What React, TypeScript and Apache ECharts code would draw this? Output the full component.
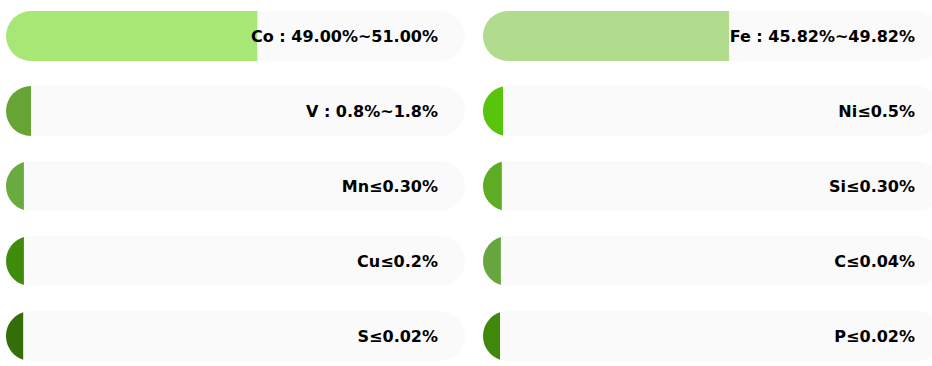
import React, { useEffect, useRef } from "react";
import * as echarts from "echarts";

const MAX = 100;

const leftNames = ["Co", "V", "Mn", "Cu", "S"];
const leftLabels = ["Co : 49.00%~51.00%", "V : 0.8%~1.8%", "Mn≤0.30%", "Cu≤0.2%", "S≤0.02%"];
const leftValues = [54.75, 5.45, 3.9, 3.9, 3.75];
const leftColors = ["#a6e776", "#66a535", "#6aaa3e", "#3f8b0b", "#336e08"];

const rightNames = ["Fe", "Ni", "Si", "C", "P"];
const rightLabels = ["Fe : 45.82%~49.82%", "Ni≤0.5%", "Si≤0.30%", "C≤0.04%", "P≤0.02%"];
const rightValues = [53.6, 4.36, 4.1, 3.9, 3.7];
const rightColors = ["#b1dc8e", "#58c40c", "#5dac24", "#67a63e", "#3f880b"];

const BAR_H = 50;
const LABEL_GAP = 27;

function makeRenderItem(labels: string[], colors: string[]) {
  return (params: any, api: any) => {
    const val = api.value(0);
    const idx = api.value(1);
    const start = api.coord([0, idx]);
    const end = api.coord([val, idx]);
    const full = api.coord([MAX, idx]);
    const r = BAR_H / 2;
    const x0 = start[0];
    const x1 = end[0];
    const yc = start[1];
    let d: string;
    if (x1 - x0 >= r) {
      d = `M ${x0 + r} ${yc - r} L ${x1} ${yc - r} L ${x1} ${yc + r} L ${x0 + r} ${yc + r} A ${r} ${r} 0 0 1 ${x0 + r} ${yc - r} Z`;
    } else {
      const dx = x0 + r - x1;
      const dy = Math.sqrt(Math.max(0, r * r - dx * dx));
      d = `M ${x1} ${yc - dy} L ${x1} ${yc + dy} A ${r} ${r} 0 0 1 ${x1} ${yc - dy} Z`;
    }
    return {
      type: "group",
      children: [
        {
          type: "path",
          shape: { pathData: d },
          style: { fill: colors[params.dataIndex] },
          z2: 1,
        },
        {
          type: "text",
          x: full[0] - LABEL_GAP,
          y: yc,
          z2: 2,
          style: {
            text: labels[params.dataIndex],
            align: "right",
            verticalAlign: "middle",
            fontSize: 16,
            fontWeight: "bold",
            fontFamily: "DejaVu Sans",
            fill: "#000",
          },
        },
      ],
    };
  };
}

export default function App() {
  const ref = useRef<HTMLDivElement>(null);
  useEffect(() => {
    if (!ref.current) return;
    const chart = echarts.init(ref.current, undefined, { renderer: "svg" });
    const grids = [
      { left: 6, top: -1.5, width: 459, height: 375, outerBoundsMode: "none" },
      { left: 483, top: -1.5, width: 459, height: 375, outerBoundsMode: "none" },
    ];
    const xAxes = [0, 1].map((i) => ({
      type: "value",
      gridIndex: i,
      min: 0,
      max: MAX,
      show: false,
    }));
    const yAxes = [leftNames, rightNames].map((names, i) => ({
      type: "category",
      gridIndex: i,
      data: names,
      inverse: true,
      show: false,
    }));
    const bg = (i: number, names: string[]) => ({
      type: "bar",
      xAxisIndex: i,
      yAxisIndex: i,
      barWidth: BAR_H,
      silent: true,
      z: 1,
      data: names.map(() => MAX),
      itemStyle: { color: "#fafafa", borderRadius: BAR_H / 2 },
    });
    const fg = (i: number, values: number[], labels: string[], colors: string[]) => ({
      type: "custom",
      xAxisIndex: i,
      yAxisIndex: i,
      z: 5,
      encode: { x: 0, y: 1 },
      data: values.map((v, k) => [v, k]),
      renderItem: makeRenderItem(labels, colors),
    });
    chart.setOption({
      animation: false,
      grid: grids,
      xAxis: xAxes,
      yAxis: yAxes,
      series: [
        bg(0, leftNames),
        bg(1, rightNames),
        fg(0, leftValues, leftLabels, leftColors),
        fg(1, rightValues, rightLabels, rightColors),
      ],
    });
    return () => chart.dispose();
  }, []);
  return (
    <div
      ref={ref}
      style={{ position: "absolute", left: 0, top: 0, width: 932, height: 366 }}
    />
  );
}
